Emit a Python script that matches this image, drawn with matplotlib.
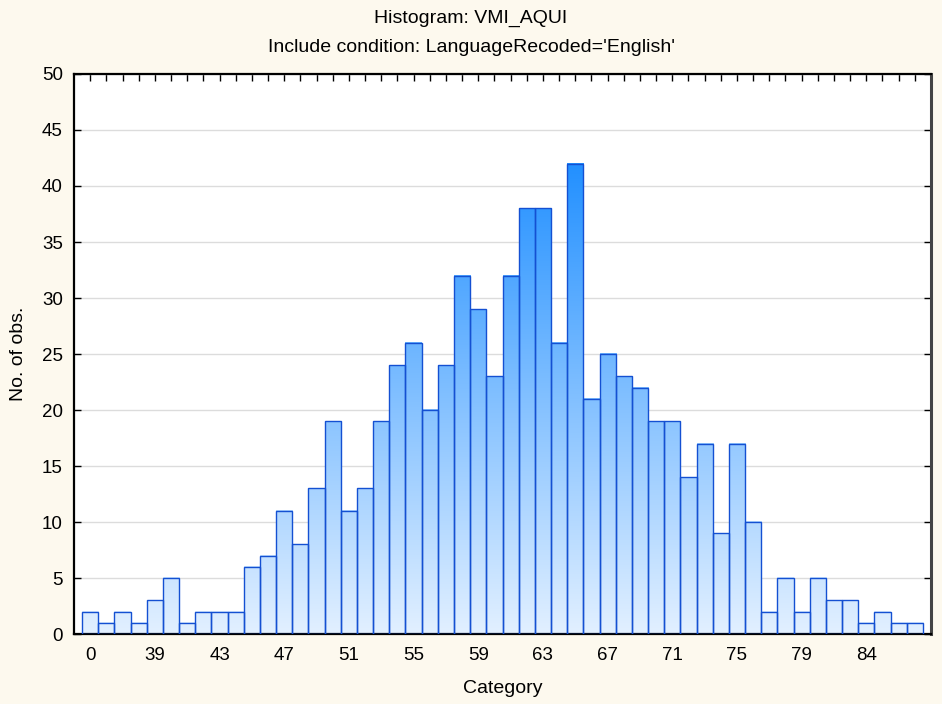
import numpy as np
import matplotlib
matplotlib.use("Agg")
import matplotlib.pyplot as plt
from matplotlib.colors import LinearSegmentedColormap

plt.rcParams['font.family'] = ['Liberation Sans', 'DejaVu Sans']

# counts per category
counts = [2, 1, 2, 1, 3, 5, 1, 2, 2, 2, 6, 7, 11, 8, 13, 19, 11, 13, 19, 24,
          26, 20, 24, 32, 29, 23, 32, 38, 38, 26, 42, 21, 25, 23, 22, 19, 19, 14,
          17, 9, 17, 10, 2, 5, 2, 5, 3, 3, 1, 2, 1, 1]
tick_labels = ["0", "39", "43", "47", "51", "55", "59", "63", "67", "71", "75", "79", "84"]
tick_pos = list(range(0, 52, 4))

title1 = "Histogram: VMI_AQUI"
title2 = "Include condition: LanguageRecoded='English'"
xlabel = "Category"
ylabel = "No. of obs."

bg = '#fdf9ee'
edge = '#1450d2'
cmap = LinearSegmentedColormap.from_list('hbar', ['#e2f0ff', '#2290ff'])

fig = plt.figure(figsize=(9.42, 7.04), dpi=100, facecolor=bg)
ax = fig.add_axes([0.0786, 0.0994, 0.9097, 0.7955])
ax.set_facecolor('white')

x = np.arange(len(counts))
vmax = max(counts)
grad = np.linspace(0, 1, 256).reshape(-1, 1)
for xi, h in zip(x, counts):
    ax.imshow(grad[: max(2, int(256 * h / vmax))], cmap=cmap, vmin=0, vmax=1,
              origin='lower', aspect='auto', extent=(xi - 0.5, xi + 0.5, 0, h),
              interpolation='bilinear', zorder=2)
ax.bar(x, counts, width=1.0, fill=False, edgecolor=edge, linewidth=1.0, zorder=3)

ax.set_xlim(-1.0, 52.0)
ax.set_ylim(0, 50)
ax.set_yticks(np.arange(0, 51, 5))
ax.yaxis.grid(True, color='#dcdcdc', linewidth=1.0, zorder=0)
ax.set_axisbelow(True)

ax.set_xticks(x, minor=True)
ax.set_xticks(tick_pos)
ax.set_xticklabels(tick_labels)
ax.tick_params(axis='both', which='both', direction='in', top=True, right=True,
               length=5, width=1, labelsize=13.5, colors='black')
ax.tick_params(axis='x', which='major', pad=9)
ax.tick_params(axis='y', which='major', pad=8)
for s in ax.spines.values():
    s.set_linewidth(1.6)
    s.set_color('black')
ax.spines['right'].set_color('#444444')
ax.spines['right'].set_linewidth(2.2)

ax.set_xlabel(xlabel, fontsize=14, va='center')
ax.xaxis.set_label_coords(0.5, -0.098)
ax.set_ylabel(ylabel, fontsize=14, va='center')
ax.yaxis.set_label_coords(-0.065, 0.5)
fig.text(0.5, 1 - 18 / 704, title1, ha='center', va='center', fontsize=14)
fig.text(0.5, 1 - 47 / 704, title2, ha='center', va='center', fontsize=14)

fig.savefig('out.png', dpi=100, facecolor=bg)
